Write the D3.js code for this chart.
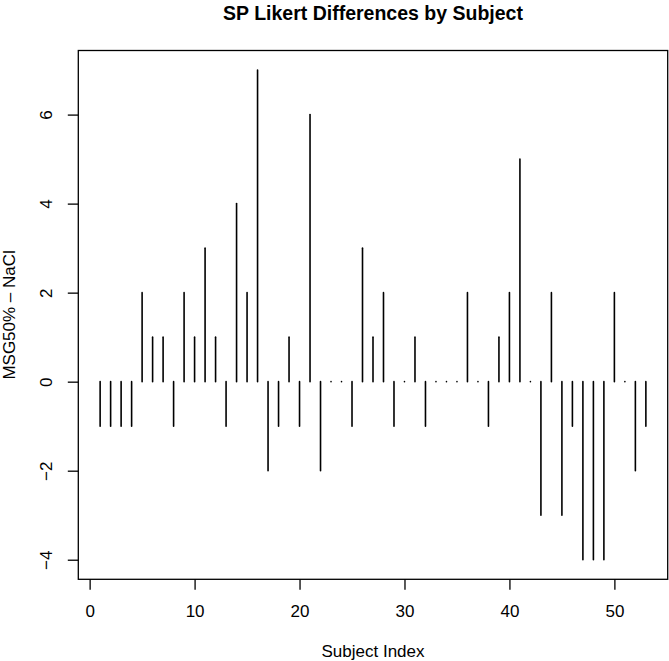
<!DOCTYPE html>
<html>
<head>
<meta charset="utf-8">
<script src="https://cdn.jsdelivr.net/npm/d3@7"></script>
<style>
  body { margin: 0; background: #fff; }
  svg { display: block; font-family: "Liberation Sans", Arial, Helvetica, sans-serif; }
</style>
</head>
<body>
<svg width="669" height="661"></svg>
<script>
// differences (MSG50% - NaCl) per subject
let subjects = d3.range(1, 54);
let diffs = [-1, -1, -1, -1, 2, 1, 1, -1, 2, 1,
             3, 1, -1, 4, 2, 7, -2, -1, 1, -1,
             6, -2, 0, 0, -1, 3, 1, 2, -1, 0,
             1, -1, 0, 0, 0, 2, 0, -1, 1, 2,
             5, 0, -3, 2, -3, -1, -4, -4, -4, 2,
             0, -2, -1];
let xTicks = [0, 10, 20, 30, 40, 50];
let yTicks = [-4, -2, 0, 2, 4, 6];
let title = "SP Likert Differences by Subject";
let xTitle = "Subject Index";
let yTitle = "MSG50% \u2013 NaCl";

var drawChart = function()
{
  let svg = d3.select("svg");
  let box = { left: 78.3, right: 667.7, top: 50.5, bottom: 579.3 };

  // R style 4% padding around the data range
  let xPad = (d3.max(subjects) - d3.min(subjects)) * 0.04;
  let yPad = (d3.max(diffs) - d3.min(diffs)) * 0.04;
  let x = d3.scaleLinear()
    .domain([d3.min(subjects) - xPad, d3.max(subjects) + xPad])
    .range([box.left, box.right]);
  let y = d3.scaleLinear()
    .domain([d3.min(diffs) - yPad, d3.max(diffs) + yPad])
    .range([box.bottom, box.top]);

  // vertical "h" lines
  svg.append("g").attr("id", "bars")
    .selectAll("line")
    .data(subjects)
    .join("line")
      .attr("x1", d => x(d))
      .attr("x2", d => x(d))
      .attr("y1", y(0))
      .attr("y2", (d, i) => y(diffs[i]))
      .attr("stroke", "#000")
      .attr("stroke-width", 1.6)
      .attr("stroke-linecap", "round");

  // axes
  let xAxis = d3.axisBottom(x).tickValues(xTicks).tickSize(10.5).tickSizeOuter(0).tickFormat(d3.format("d"));
  let xGroup = svg.append("g").attr("id", "x-axis")
    .attr("transform", "translate(0," + box.bottom + ")")
    .call(xAxis);
  xGroup.select(".domain").remove();
  xGroup.selectAll("line").attr("stroke", "#000").attr("stroke-width", 1.3);
  xGroup.selectAll("text")
    .attr("y", 32).attr("dy", "0.35em")
    .attr("fill", "#000")
    .style("font-size", "17px")
    .style("font-family", "\"Liberation Sans\", Arial, sans-serif");

  let yAxis = d3.axisLeft(y).tickValues(yTicks).tickSize(10.5).tickSizeOuter(0).tickFormat(d3.format("d"));
  let yGroup = svg.append("g").attr("id", "y-axis")
    .attr("transform", "translate(" + box.left + ",0)")
    .call(yAxis);
  yGroup.select(".domain").remove();
  yGroup.selectAll("line").attr("stroke", "#000").attr("stroke-width", 1.3);
  yGroup.selectAll("text")
    .attr("x", 0).attr("y", 0).attr("dy", "0.35em")
    .attr("text-anchor", "middle")
    .attr("transform", "translate(-32,0) rotate(-90)")
    .attr("fill", "#000")
    .style("font-size", "17px")
    .style("font-family", "\"Liberation Sans\", Arial, sans-serif");

  // plot frame
  svg.append("rect")
    .attr("x", box.left).attr("y", box.top)
    .attr("width", box.right - box.left)
    .attr("height", box.bottom - box.top)
    .attr("fill", "none")
    .attr("stroke", "#000")
    .attr("stroke-width", 1.3);

  // titles
  svg.append("text")
    .attr("x", (box.left + box.right) / 2)
    .attr("y", 20)
    .attr("text-anchor", "middle")
    .style("font-size", "19.5px")
    .style("font-weight", "bold")
    .text(title);

  svg.append("text")
    .attr("x", (box.left + box.right) / 2)
    .attr("y", 651)
    .attr("dy", "0.35em")
    .attr("text-anchor", "middle")
    .style("font-size", "17px")
    .text(xTitle);

  svg.append("text")
    .attr("transform", "translate(9," + (box.top + box.bottom) / 2 + ") rotate(-90)")
    .attr("dy", "0.35em")
    .attr("text-anchor", "middle")
    .style("font-size", "17px")
    .text(yTitle);
};

drawChart();
</script>
</body>
</html>
